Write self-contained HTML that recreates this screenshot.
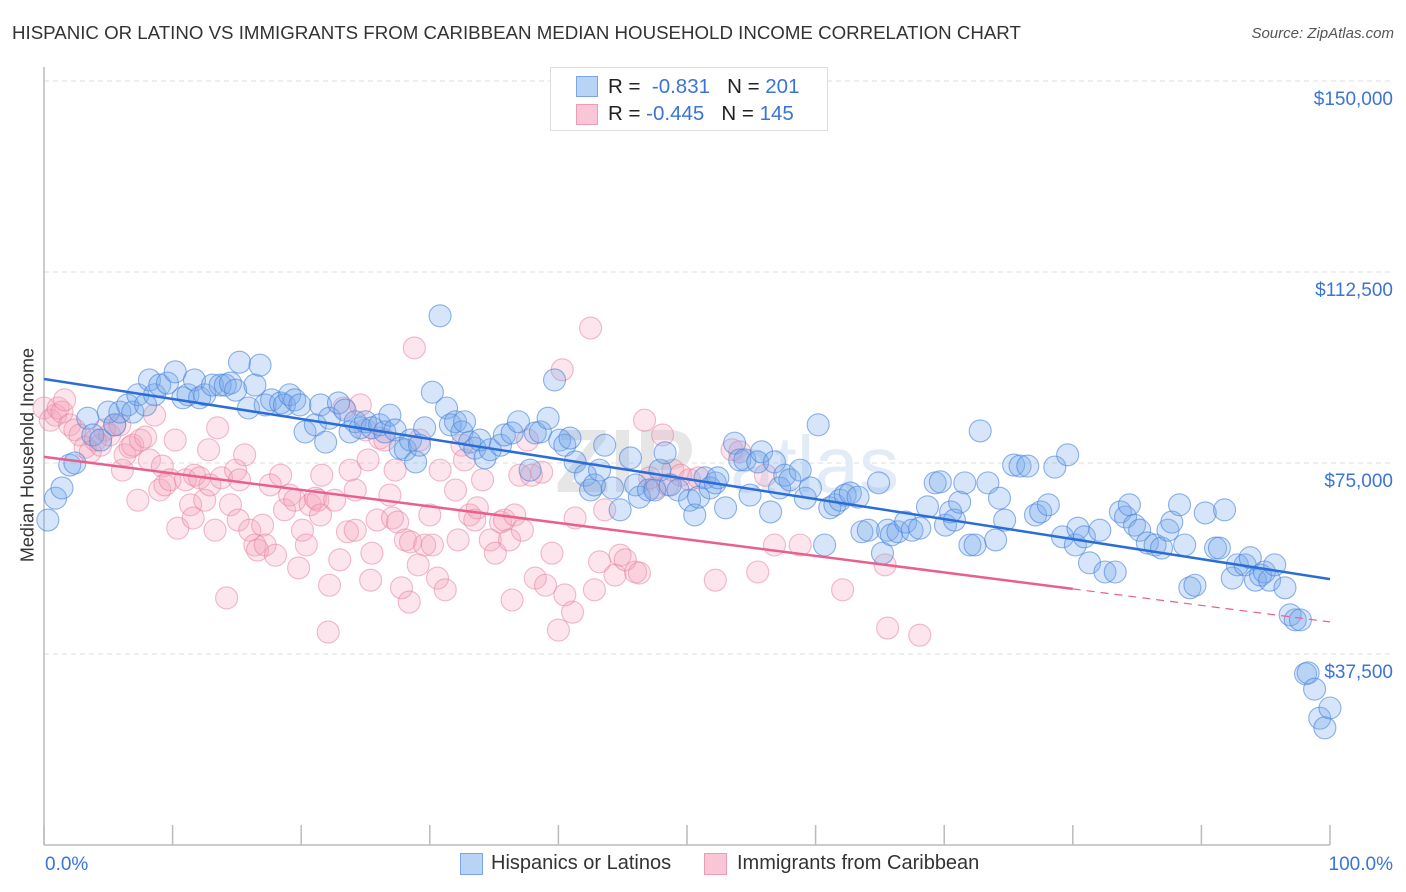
<!DOCTYPE html>
<html><head><meta charset="utf-8">
<style>
body{margin:0;background:#fff;font-family:"Liberation Sans",sans-serif;}
#wrap{position:relative;width:1406px;height:892px;overflow:hidden;}
.t{position:absolute;white-space:nowrap;}
</style></head>
<body>
<div id="wrap">
<div class="t" style="left:12px;top:22px;font-size:18.7px;color:#333;">HISPANIC OR LATINO VS IMMIGRANTS FROM CARIBBEAN MEDIAN HOUSEHOLD INCOME CORRELATION CHART</div>
<div class="t" style="right:12px;top:25px;font-size:15px;color:#555;font-style:italic;">Source: ZipAtlas.com</div>
<div class="t" style="left:28px;top:455px;font-size:18px;color:#333;transform:translate(-50%,-50%) rotate(-90deg);">Median Household Income</div>
<svg id="svg" width="1406" height="892" style="position:absolute;left:0;top:0"></svg>
<div style="position:absolute;left:550px;top:67px;width:276px;height:62px;border:1px solid #ddd;background:#fff;font-size:20.5px;">
 <div style="position:absolute;left:25px;top:8px;width:20px;height:19px;background:#b9d3f5;border:1px solid #7aa6e8;"></div>
 <div class="t" style="left:57px;top:7px;color:#222;">R = &nbsp;<span style="color:#3a74d6">-0.831</span>&nbsp;&nbsp;&nbsp;N = <span style="color:#3a74d6">201</span></div>
 <div style="position:absolute;left:25px;top:36px;width:20px;height:19px;background:#f9c6d5;border:1px solid #ec9cb5;"></div>
 <div class="t" style="left:57px;top:34px;color:#222;">R = <span style="color:#3a74d6">-0.445</span>&nbsp;&nbsp;&nbsp;N = <span style="color:#3a74d6">145</span></div>
</div>
<div style="position:absolute;left:460px;top:853px;width:21px;height:20px;background:#b9d3f5;border:1px solid #7aa6e8;"></div>
<div class="t" style="left:491px;top:852px;font-size:20px;color:#333;">Hispanics or Latinos</div>
<div style="position:absolute;left:704px;top:853px;width:21px;height:20px;background:#f9c6d5;border:1px solid #ec9cb5;"></div>
<div class="t" style="left:737px;top:852px;font-size:20px;color:#333;">Immigrants from Caribbean</div>
</div>
<script>
const yTicks=[37.5,75,112.5,150];
const yTickLabels=["$37,500","$75,000","$112,500","$150,000"];
const xTickLabels=["0.0%","100.0%"];
const blueX=[0.3,0.9,1.4,2.0,2.4,3.4,3.8,4.4,5.0,5.5,5.9,6.5,6.9,7.3,7.9,8.2,8.6,9.0,9.6,10.2,10.8,11.2,11.7,12.1,12.5,13.1,13.7,14.1,14.5,14.9,15.2,15.9,16.4,16.8,17.2,17.7,18.4,18.7,19.1,19.5,19.9,20.3,21.1,21.5,21.9,22.2,22.9,23.4,23.8,24.2,24.6,25.0,25.5,26.1,26.5,26.9,27.3,27.7,28.1,28.5,28.9,29.2,29.6,30.2,30.8,31.3,31.6,32.0,32.5,32.7,33.1,33.5,33.9,34.3,34.7,35.5,35.8,36.4,36.9,37.8,38.2,38.6,39.2,39.7,40.1,40.5,40.9,41.3,42.1,42.5,42.8,43.2,43.6,44.2,44.8,45.6,46.0,46.3,47.0,47.5,47.9,48.3,48.7,49.3,50.2,50.6,50.9,51.4,51.8,52.2,52.4,53.0,53.7,54.1,54.5,54.9,55.5,55.8,56.5,56.8,57.2,57.6,58.0,58.8,59.2,59.6,60.2,60.7,61.1,61.5,61.9,62.3,62.7,63.3,63.6,64.1,64.9,65.2,65.6,65.9,66.4,67.0,67.5,68.1,68.7,69.3,69.7,70.1,70.5,70.8,71.2,71.6,72.0,72.4,72.8,73.4,74.0,74.3,74.7,75.4,75.9,76.5,77.1,77.5,78.1,78.6,79.2,79.6,80.2,80.4,80.9,81.3,82.1,82.5,83.3,83.7,84.1,84.4,84.8,85.2,85.8,86.4,86.9,87.4,87.7,88.3,88.7,89.1,89.5,90.3,91.1,91.4,91.8,92.4,92.8,93.4,93.8,94.2,94.6,94.9,95.3,95.7,96.5,96.9,97.3,97.7,98.1,98.3,98.8,99.2,99.6,100];
const blueY=[63.8,68.1,70.1,74.6,75.0,83.8,80.5,79.5,85.0,82.5,85.0,86.4,85.0,88.4,86.4,91.3,88.4,90.3,90.7,92.9,87.8,88.4,91.3,87.8,88.4,90.3,90.3,90.3,90.7,89.3,94.8,85.8,90.3,94.2,86.4,87.4,86.8,86.4,88.4,87.4,86.4,81.1,82.5,86.4,79.1,83.8,86.8,85.4,81.1,83.1,81.9,83.1,81.9,82.5,81.1,84.4,81.5,77.9,77.6,79.5,75.2,78.5,81.9,88.9,103.9,85.8,82.5,83.1,81.1,83.1,79.1,77.9,79.5,76.0,77.6,78.5,80.5,80.9,83.1,73.6,80.9,81.1,83.8,91.3,79.5,78.5,79.9,75.2,72.6,69.7,70.7,73.6,78.5,70.1,65.8,76.0,70.7,68.3,69.7,69.7,73.6,77.0,70.7,69.7,67.7,64.8,68.3,72.1,70.1,71.1,72.1,66.2,78.9,75.6,75.6,68.7,75.2,77.2,65.4,75.2,70.1,72.6,71.7,73.6,68.1,70.1,82.5,58.9,66.2,66.8,67.7,68.7,69.1,68.3,61.5,61.8,71.1,57.3,61.8,60.9,61.5,63.4,61.8,62.2,66.4,71.1,71.3,62.8,65.4,63.8,67.3,71.1,58.9,58.9,81.3,71.1,59.9,68.1,63.8,74.6,74.4,74.4,64.8,65.4,66.8,74.2,60.5,76.6,58.9,62.2,60.5,55.4,61.8,53.6,53.6,65.4,64.4,66.8,62.8,61.8,59.3,58.9,58.3,61.8,63.4,66.8,58.9,50.5,51.0,65.2,58.3,58.3,65.8,52.4,55.0,55.0,56.4,52.0,53.0,53.6,52.0,55.0,50.5,45.2,44.2,44.2,33.6,33.8,30.6,24.9,23.0,26.9];
const pinkX=[0,0.5,0.9,1.1,1.4,1.6,2.0,2.4,2.8,3.2,3.6,4.0,4.4,4.7,5.1,5.5,5.9,6.1,6.3,6.7,6.9,7.3,7.5,7.9,8.2,8.6,9.0,9.2,9.4,9.8,10.2,10.4,11.0,11.4,11.6,11.7,12.1,12.5,12.8,12.9,13.3,13.5,13.8,14.2,14.5,14.9,15.1,15.2,15.6,16.0,16.4,16.6,17.0,17.2,17.6,18.0,18.4,18.7,19.1,19.5,19.8,20.1,20.4,20.7,21.1,21.3,21.5,21.6,22.1,22.2,22.6,23.0,23.3,23.6,23.8,24.2,24.2,24.6,25.0,25.2,25.4,25.5,25.9,26.1,26.5,26.9,27.1,27.3,27.5,27.8,28.1,28.4,28.5,28.8,29.1,29.2,29.6,30.0,30.2,30.6,30.8,31.2,32.0,32.2,32.5,32.7,33.1,33.5,33.7,34.1,34.7,35.1,35.5,35.8,36.2,36.4,36.6,37.0,37.2,37.6,37.9,38.2,38.7,39.0,39.5,40.0,40.3,40.5,41.1,41.3,42.5,42.8,43.2,43.6,44.4,44.8,45.2,46.0,46.3,46.7,47.1,47.5,48.1,48.5,48.9,49.5,50.2,50.9,52.2,53.5,54.1,55.5,56.1,56.8,58.8,62.1,65.4,65.6,68.1];
const pinkY=[85.8,83.4,84.4,85.8,85.0,87.4,82.5,81.5,80.5,78.1,77.2,79.5,78.5,81.5,80.5,82.5,82.5,73.6,76.6,78.1,78.5,67.7,79.5,80.1,75.6,84.4,69.7,74.4,70.7,71.7,79.5,62.2,71.7,66.8,64.2,72.6,72.1,67.7,77.6,70.7,61.8,81.9,72.1,48.5,66.8,73.6,63.8,71.7,76.6,61.8,58.9,57.9,62.8,58.9,70.7,56.9,72.6,65.8,68.7,67.7,54.4,61.8,58.9,66.8,68.1,67.7,64.8,72.6,41.8,51.0,67.7,56.0,85.8,61.5,73.6,61.8,69.7,86.4,81.5,75.6,52.0,57.3,63.8,79.9,79.5,68.7,64.2,73.6,63.4,50.5,59.9,47.7,59.5,97.6,55.0,79.5,58.9,64.8,58.9,52.4,73.6,50.1,69.7,59.9,78.5,75.6,64.8,63.8,66.2,71.7,59.9,57.3,63.4,63.8,59.9,48.1,64.8,72.6,61.8,79.5,72.6,52.4,73.2,51.0,57.3,42.2,93.3,49.1,45.7,64.2,101.5,50.1,55.6,65.8,53.0,56.9,56.0,53.6,53.4,83.4,72.1,70.1,80.5,70.7,73.6,72.6,71.7,72.1,52.0,77.6,77.2,53.6,72.6,58.9,58.9,50.1,55.0,42.6,41.2];
const blueTrend=[91.5,52.2];
const pinkTrend=[76.2,43.8];
const pinkSolidEnd=80;

const L=44,R=1330,B=845,PXK=191/37.5;
const xs=v=>L+(R-L)*v/100;
const ys=v=>B-v*PXK;
const svg=document.getElementById('svg');
const NS='http://www.w3.org/2000/svg';
function mk(tag,attrs){const e=document.createElementNS(NS,tag);for(const k in attrs)e.setAttribute(k,attrs[k]);svg.appendChild(e);return e;}

yTicks.forEach((t,i)=>{
  const g=mk('line',{x1:L,x2:1393,y1:ys(t),y2:ys(t),stroke:'#ddd','stroke-dasharray':'5,4'});
  
  
  const tx=mk('text',{x:1393,y:ys(t)+24,'text-anchor':'end','font-size':'19','fill':'#3a74d6','font-family':'Liberation Sans, sans-serif'});
  tx.textContent=yTickLabels[i];
  
  
});
const ya=mk('line',{x1:L,x2:L,y1:67,y2:B,stroke:'#bbb','stroke-width':1.5});


const xa=mk('line',{x1:L,x2:R,y1:B,y2:B,stroke:'#bbb','stroke-width':1.5});


for(let i=0;i<=10;i++){
  const tk=mk('line',{x1:xs(i*10),x2:xs(i*10),y1:B,y2:B-20,stroke:'#bbb','stroke-width':1.5});
  
  
}
const xl0=mk('text',{x:45,y:870,'font-size':'19',fill:'#3a74d6','font-family':'Liberation Sans, sans-serif'});
xl0.textContent=xTickLabels[0];


const xl1=mk('text',{x:1393,y:870,'text-anchor':'end','font-size':'19',fill:'#3a74d6','font-family':'Liberation Sans, sans-serif'});
xl1.textContent=xTickLabels[1];


const wm=mk('text',{x:555,y:492,'font-size':'90','font-weight':'bold',fill:'#e6e6e6','font-family':'Liberation Sans, sans-serif'});
wm.textContent='ZIP';


const wm2=mk('text',{x:730,y:492,'font-size':'80',fill:'#e3ebf7','font-family':'Liberation Sans, sans-serif'});
wm2.textContent='atlas';


pinkX.forEach((x,i)=>{
  const c=mk('circle',{cx:xs(x),cy:ys(pinkY[i]),r:11,fill:'rgba(244,160,185,0.28)',stroke:'rgba(232,130,160,0.55)','stroke-width':1.1});
  
  
});
blueX.forEach((x,i)=>{
  const c=mk('circle',{cx:xs(x),cy:ys(blueY[i]),r:11,fill:'rgba(120,168,235,0.3)',stroke:'rgba(70,130,220,0.6)','stroke-width':1.1});
  
  
});
const bt=mk('line',{x1:xs(0),y1:ys(blueTrend[0]),x2:xs(100),y2:ys(blueTrend[1]),stroke:'#2a6dd6','stroke-width':2.5});


const pAt=x=>pinkTrend[0]+(pinkTrend[1]-pinkTrend[0])*x/100;
const pt=mk('line',{x1:xs(0),y1:ys(pAt(0)),x2:xs(pinkSolidEnd),y2:ys(pAt(pinkSolidEnd)),stroke:'#e8608d','stroke-width':2.5});


const pd=mk('line',{x1:xs(pinkSolidEnd),y1:ys(pAt(pinkSolidEnd)),x2:xs(100),y2:ys(pAt(100)),stroke:'#e8608d','stroke-width':1.2,'stroke-dasharray':'8,6'});


</script>
</body></html>
